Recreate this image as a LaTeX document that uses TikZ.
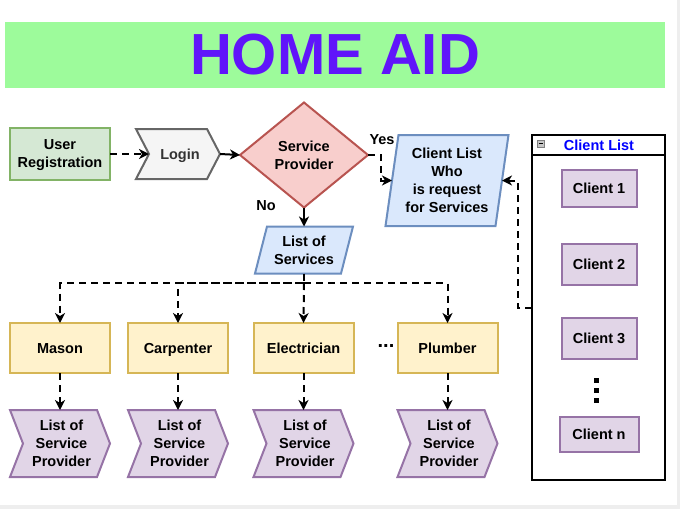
\documentclass[tikz,border=0pt]{standalone}
\usepackage{fontspec}
\setmainfont{Liberation Sans}
\usetikzlibrary{arrows.meta,backgrounds,calc}
\definecolor{greenF}{HTML}{D5E8D4}\definecolor{greenD}{HTML}{82B366}
\definecolor{grayF}{HTML}{F5F5F5}\definecolor{grayD}{HTML}{666666}
\definecolor{redF}{HTML}{F8CECC}\definecolor{redD}{HTML}{B85450}
\definecolor{blueF}{HTML}{DAE8FC}\definecolor{blueD}{HTML}{6C8EBF}
\definecolor{yelF}{HTML}{FFF2CC}\definecolor{yelD}{HTML}{D6B656}
\definecolor{purF}{HTML}{E1D5E7}\definecolor{purD}{HTML}{9673A6}
\definecolor{bannerF}{HTML}{9DFB9B}
\definecolor{titleC}{HTML}{6015FA}
\definecolor{edgeC}{HTML}{EEEEEE}
\definecolor{loginT}{HTML}{333333}
\newcommand{\chevshape}[3]{%
  \begin{scope}[on background layer]
  \draw[#3] (#1.north west) -- ([xshift=-#2]#1.north east) -- (#1.east) -- ([xshift=-#2]#1.south east) -- (#1.south west) -- ([xshift=#2]#1.west) -- cycle;
  \end{scope}}
\newcommand{\parashape}[3]{%
  \begin{scope}[on background layer]
  \draw[#3] ([xshift=#2]#1.north west) -- ([xshift=#2]#1.north east) -- ([xshift=-#2]#1.south east) -- ([xshift=-#2]#1.south west) -- cycle;
  \end{scope}}
\begin{document}
\begin{tikzpicture}[x=1pt,y=-1pt,
  font=\bfseries\fontsize{14.5}{18}\selectfont,
  box/.style={draw, line width=2pt, align=center, inner sep=0pt, outer sep=0pt},
  one/.style={text height=10.5pt, text depth=0pt},
  plain/.style={align=center, inner sep=0pt, outer sep=0pt},
  greenbox/.style={box, fill=greenF, draw=greenD},
  yelbox/.style={box, one, fill=yelF, draw=yelD},
  purbox/.style={box, one, fill=purF, draw=purD},
  grayline/.style={line width=2pt, fill=grayF, draw=grayD},
  redline/.style={line width=2pt, fill=redF, draw=redD},
  blueline/.style={line width=2pt, fill=blueF, draw=blueD},
  purline/.style={line width=2pt, fill=purF, draw=purD},
  arr/.style={line width=2pt, -{Stealth[length=10pt,width=10pt,inset=3pt]}},
  darr/.style={arr, dash pattern=on 7pt off 5pt},
  lbl/.style={inner sep=0pt}
]
\useasboundingbox (0,0) rectangle (680,509);
\fill[edgeC] (677,0) rectangle (680,509);
\fill[edgeC] (0,505) rectangle (680,509);

% title
\node[fill=bannerF, minimum width=660, minimum height=66, inner sep=0pt, text=titleC,
      font=\bfseries\fontsize{58}{60}\selectfont] (title) at (335,55) {HOME AID};

% top row
\node[greenbox, text depth=0pt, minimum width=100, minimum height=52] (reg) at (60,154) {User\\Registration};
\node[plain, one, minimum width=84, minimum height=50, text=loginT] (login) at (178,154) {\hspace*{4pt}Login};
\chevshape{login}{13}{grayline}
\node[plain, minimum width=128, minimum height=105] (sp) at (304,155) {Service\\Provider};
\begin{scope}[on background layer]
\draw[redline] (sp.north) -- (sp.east) -- (sp.south) -- (sp.west) -- cycle;
\end{scope}
\node[plain, minimum width=110, minimum height=91] (cl) at (447,180.5) {Client List\\Who\\is request\\for Services};
\parashape{cl}{6.5}{blueline}
\node[plain, minimum width=86, minimum height=47] (los) at (304,250) {List of\\Services};
\parashape{los}{6}{blueline}

\node[lbl] (yes) at (382,140) {Yes};
\node[lbl] (no) at (266,206) {No};

% client list container
\node[draw=black, line width=2pt, minimum width=133, minimum height=345, inner sep=0pt, outer sep=0pt] (cont) at (598.5,307.5) {};
\coordinate (hl) at (532,155);
\coordinate (hr) at (665,155);
\draw[line width=2pt] (hl) -- (hr);
\node[lbl, text=blue] (conttitle) at (599,145) {Client List};
\node[draw=gray, fill=gray!45, minimum size=7pt, inner sep=0pt, line width=0.6pt] (icon) at (540.5,143.5) {};
\draw[line width=0.8pt, black] ([xshift=-2pt]icon.center) -- ([xshift=2pt]icon.center);

\node[purbox, minimum width=75, minimum height=37] (c1) at (599,188) {Client 1};
\node[purbox, minimum width=75, minimum height=41] (c2) at (599,264) {Client 2};
\node[purbox, minimum width=75, minimum height=41] (c3) at (599,338) {Client 3};
\node[purbox, minimum width=79, minimum height=35] (cn) at (599,434) {Client n};
\foreach \yy in {380,390,400} \fill (594,\yy-2.5) rectangle (599,\yy+2.5);

% trades
\node[yelbox, minimum width=100, minimum height=50] (mason) at (60,348) {Mason};
\node[yelbox, minimum width=100, minimum height=50] (carp) at (178,348) {Carpenter};
\node[yelbox, minimum width=100, minimum height=50] (elec) at (303.5,348) {Electrician};
\node[yelbox, minimum width=100, minimum height=50] (plum) at (447.5,348) {Plumber};
\node[lbl, font=\bfseries\fontsize{20}{20}\selectfont] (dots) at (386,346) {...};

% providers
\node[plain, minimum width=100, minimum height=67] (p1) at (60,443.5) {\hspace*{3pt}List of\\\hspace*{3pt}Service\\\hspace*{3pt}Provider};
\chevshape{p1}{13}{purline}
\node[plain, minimum width=100, minimum height=67] (p2) at (178,443.5) {\hspace*{3pt}List of\\\hspace*{3pt}Service\\\hspace*{3pt}Provider};
\chevshape{p2}{13}{purline}
\node[plain, minimum width=100, minimum height=67] (p3) at (303.5,443.5) {\hspace*{3pt}List of\\\hspace*{3pt}Service\\\hspace*{3pt}Provider};
\chevshape{p3}{13}{purline}
\node[plain, minimum width=100, minimum height=67] (p4) at (447.5,443.5) {\hspace*{3pt}List of\\\hspace*{3pt}Service\\\hspace*{3pt}Provider};
\chevshape{p4}{13}{purline}

% connectors
\draw[darr] (reg.east) -- ([xshift=13pt]login.west);
\draw[arr] (login.east) -- (sp.west);
\draw[arr] (sp.south) -- (los.north);
\coordinate (yesc) at (381,155);
\draw[darr] (sp.east) -- (yesc) |- (cl.west);
\coordinate (cc) at (518,307.5);
\draw[darr] (cont.west) -- (cc) |- (cl.east);
\coordinate (j) at (304,283);
\draw[darr] (los.south) -- (j) -| (mason.north);
\draw[darr] (j) -| (carp.north);
\draw[darr] (j) -- (elec.north);
\draw[darr] (j) -| (plum.north);
\draw[darr] (mason.south) -- (p1.north);
\draw[darr] (carp.south) -- (p2.north);
\draw[darr] (elec.south) -- (p3.north);
\draw[darr] (plum.south) -- (p4.north);
\end{tikzpicture}
\end{document}
